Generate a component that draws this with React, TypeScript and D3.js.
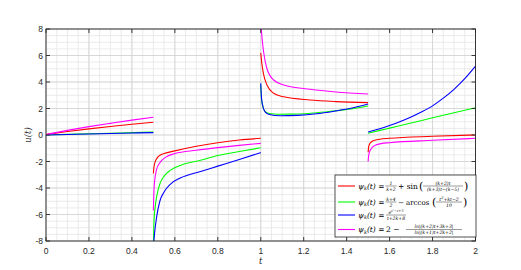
import React from "react";
import * as d3 from "d3";

// tick labels
const xTicks = [0, 0.2, 0.4, 0.6, 0.8, 1, 1.2, 1.4, 1.6, 1.8, 2];
const yTicks = [-8, -6, -4, -2, 0, 2, 4, 6, 8];

// curves, one list of [t, u] per interval
const redSegments: number[][][] = [
  [[0, 0.03], [0.1, 0.26], [0.2, 0.46], [0.3, 0.64], [0.4, 0.81], [0.5, 0.96]],
  [[0.5, -2.9], [0.503, -2.4], [0.51, -1.95], [0.525, -1.6], [0.55, -1.4], [0.6, -1.2], [0.7, -0.85], [0.8, -0.58], [0.9, -0.38], [1.0, -0.25]],
  [[1.0, 6.2], [1.005, 5.4], [1.013, 4.6], [1.029, 3.77], [1.06, 3.15], [1.107, 2.88], [1.23, 2.64], [1.35, 2.52], [1.5, 2.44]],
  [[1.5, -1.3], [1.503, -0.85], [1.51, -0.6], [1.53, -0.4], [1.6, -0.25], [1.8, -0.1], [2.0, 0.0]],
];
const greenSegments: number[][][] = [
  [[0, 0.0], [0.1, 0.05], [0.2, 0.09], [0.3, 0.13], [0.4, 0.18], [0.5, 0.22]],
  [[0.5, -8.5], [0.503, -6.5], [0.508, -5.5], [0.516, -4.6], [0.53, -3.7], [0.55, -3.1], [0.58, -2.65], [0.625, -2.3], [0.72, -1.9], [0.8, -1.55], [0.9, -1.25], [1.0, -0.96]],
  [[1.0, 3.8], [1.003, 2.8], [1.008, 2.25], [1.02, 1.78], [1.04, 1.62], [1.08, 1.57], [1.17, 1.58], [1.26, 1.68], [1.35, 1.83], [1.42, 1.97], [1.5, 2.19]],
  [[1.5, 0.13], [1.55, 0.33], [1.6, 0.52], [1.7, 0.9], [1.8, 1.3], [1.9, 1.68], [2.0, 2.05]],
];
const blueSegments: number[][][] = [
  [[0, 0.0], [0.1, 0.04], [0.2, 0.08], [0.3, 0.11], [0.4, 0.15], [0.5, 0.18]],
  [[0.5, -8.5], [0.505, -7.5], [0.515, -6.2], [0.53, -5.0], [0.55, -4.3], [0.58, -3.7], [0.625, -3.25], [0.72, -2.75], [0.8, -2.35], [0.9, -1.85], [1.0, -1.33]],
  [[1.0, 3.9], [1.003, 2.9], [1.008, 2.3], [1.02, 1.75], [1.04, 1.55], [1.09, 1.45], [1.17, 1.48], [1.26, 1.6], [1.35, 1.82], [1.42, 2.02], [1.5, 2.34]],
  [[1.5, 0.22], [1.55, 0.45], [1.6, 0.72], [1.65, 1.02], [1.7, 1.36], [1.75, 1.75], [1.8, 2.2], [1.85, 2.78], [1.9, 3.45], [1.95, 4.25], [2.0, 5.2]],
];
const magentaSegments: number[][][] = [
  [[0, 0.03], [0.1, 0.35], [0.2, 0.63], [0.3, 0.88], [0.4, 1.12], [0.5, 1.34]],
  [[0.5, -5.7], [0.502, -4.5], [0.505, -3.6], [0.515, -2.6], [0.53, -2.1], [0.56, -1.65], [0.6, -1.4], [0.7, -1.15], [0.8, -0.95], [0.9, -0.78], [1.0, -0.63]],
  [[1.0, 8.5], [1.005, 7.5], [1.013, 6.3], [1.029, 5.0], [1.06, 4.15], [1.107, 3.77], [1.23, 3.45], [1.35, 3.25], [1.5, 3.1]],
  [[1.5, -2.0], [1.503, -1.5], [1.51, -1.15], [1.53, -0.8], [1.56, -0.65], [1.6, -0.58], [1.8, -0.4], [2.0, -0.25]],
];

const series = [
  { name: "red", color: "#ff0000", segs: redSegments },
  { name: "green", color: "#00ff00", segs: greenSegments },
  { name: "blue", color: "#0000ff", segs: blueSegments },
  { name: "magenta", color: "#ff00ff", segs: magentaSegments },
];

const W = 521;
const H = 270;
const left = 46, right = 475.5, top = 29, bottom = 241;

const serif = "'DejaVu Serif', 'Liberation Serif', serif";

function Frac({ x, y, num, den, w }: { x: number; y: number; num: React.ReactNode; den: React.ReactNode; w: number }) {
  return (
    <g>
      <text x={x} y={y - 1.3} textAnchor="middle" fontSize={4.6} fontFamily={serif} fontStyle="italic">{num}</text>
      <line x1={x - w / 2} x2={x + w / 2} y1={y} y2={y} stroke="#000" strokeWidth={0.4} />
      <text x={x} y={y + 4.8} textAnchor="middle" fontSize={4.6} fontFamily={serif} fontStyle="italic">{den}</text>
    </g>
  );
}

function Psi({ x, y }: { x: number; y: number }) {
  return (
    <text x={x} y={y + 2.6} fontSize={7.5} fontFamily={serif} fontStyle="italic">
      ψ<tspan fontSize={5} dy={1.5}>k</tspan><tspan dy={-1.5}>(t) </tspan><tspan fontStyle="normal">=</tspan>
    </text>
  );
}

export default function App() {
  const x = d3.scaleLinear().domain([0, 2]).range([left, right]);
  const y = d3.scaleLinear().domain([-8, 8]).range([bottom, top]);
  const line = d3.line<number[]>().x(d => x(d[0])).y(d => y(d[1])).curve(d3.curveMonotoneX);

  const xMinor = d3.range(0, 2.0001, 0.05);
  const yMinor = d3.range(-8, 8.0001, 0.5);
  const axisColor = "#262626";

  const rows = [186, 202, 215, 229.5];

  return (
    <svg width={W} height={H} style={{ position: "absolute", left: 0, top: 0, background: "#fff" }}>
      <defs>
        <clipPath id="plot">
          <rect x={left} y={top} width={right - left} height={bottom - top} />
        </clipPath>
      </defs>
      <rect x={left} y={top} width={right - left} height={bottom - top} fill="#fff" />
      {/* minor grid */}
      {xMinor.map((t, i) => (
        <line key={"xm" + i} x1={x(t)} x2={x(t)} y1={top} y2={bottom} stroke="#e6e6e6" strokeWidth={0.8} />
      ))}
      {yMinor.map((v, i) => (
        <line key={"ym" + i} x1={left} x2={right} y1={y(v)} y2={y(v)} stroke="#e6e6e6" strokeWidth={0.8} />
      ))}
      {/* major grid */}
      {xTicks.map(t => (
        <line key={"xg" + t} x1={x(t)} x2={x(t)} y1={top} y2={bottom} stroke="#d2d2d2" strokeWidth={0.8} />
      ))}
      {yTicks.map(v => (
        <line key={"yg" + v} x1={left} x2={right} y1={y(v)} y2={y(v)} stroke="#d2d2d2" strokeWidth={0.8} />
      ))}

      {/* curves */}
      <g clipPath="url(#plot)">
        {series.map(s =>
          s.segs.map((seg, i) => (
            <path key={s.name + i} d={line(seg) || ""} fill="none" stroke={s.color} strokeWidth={1.1} />
          ))
        )}
      </g>

      {/* box and ticks */}
      <rect x={left} y={top} width={right - left} height={bottom - top} fill="none" stroke={axisColor} strokeWidth={0.9} />
      {xTicks.map(t => (
        <g key={"xt" + t}>
          <line x1={x(t)} x2={x(t)} y1={bottom} y2={bottom - 4} stroke={axisColor} strokeWidth={0.9} />
          <line x1={x(t)} x2={x(t)} y1={top} y2={top + 4} stroke={axisColor} strokeWidth={0.9} />
          <text x={x(t)} y={254} textAnchor="middle" fontSize={8.5} fontFamily="'Liberation Sans', Arial, sans-serif" fill="#262626">{t}</text>
        </g>
      ))}
      {yTicks.map(v => (
        <g key={"yt" + v}>
          <line x1={left} x2={left + 4} y1={y(v)} y2={y(v)} stroke={axisColor} strokeWidth={0.9} />
          <line x1={right} x2={right - 4} y1={y(v)} y2={y(v)} stroke={axisColor} strokeWidth={0.9} />
          <text x={43} y={y(v) + 3} textAnchor="end" fontSize={8.5} fontFamily="'Liberation Sans', Arial, sans-serif" fill="#262626">{v}</text>
        </g>
      ))}

      {/* axis labels */}
      <text x={(left + right) / 2} y={264} textAnchor="middle" fontSize={8.5} fontFamily={serif} fontStyle="italic" fill="#262626">t</text>
      <text transform={`translate(31,${y(0)}) rotate(-90)`} textAnchor="middle" fontSize={8.5} fontFamily={serif} fontStyle="italic" fill="#262626">u(t)</text>

      {/* legend */}
      <g>
        <rect x={335} y={175} width={141} height={62} fill="#fff" stroke="#262626" strokeWidth={0.8} />
        {series.map((s, i) => (
          <line key={"lg" + i} x1={338} x2={355} y1={rows[i]} y2={rows[i]} stroke={s.color} strokeWidth={1.1} />
        ))}
        {rows.map((r, i) => <Psi key={"psi" + i} x={358} y={r} />)}

        {/* row 1 */}
        <Frac x={391} y={rows[0]} w={11} num="1" den="k+2" />
        <text x={398} y={rows[0] + 2.6} fontSize={7.5} fontFamily={serif}>+ sin</text>
        <text x={419} y={rows[0] + 3.5} fontSize={11} fontFamily={serif}>(</text>
        <Frac x={443} y={rows[0]} w={40} num="(k+2)t" den="(k+3)t−(k−5)" />
        <text x={464} y={rows[0] + 3.5} fontSize={11} fontFamily={serif}>)</text>

        {/* row 2 */}
        <Frac x={391} y={rows[1]} w={11} num="k+4" den="2" />
        <text x={398} y={rows[1] + 2.6} fontSize={7} fontFamily={serif}>− arccos</text>
        <text x={432} y={rows[1] + 3.5} fontSize={11} fontFamily={serif}>(</text>
        <Frac x={449} y={rows[1]} w={26} num={<>t<tspan fontSize={3.5} dy={-1.5}>2</tspan><tspan dy={1.5}>+kt−2</tspan></>} den="10" />
        <text x={463} y={rows[1] + 3.5} fontSize={11} fontFamily={serif}>)</text>

        {/* row 3 */}
        <Frac x={396} y={rows[2]} w={20} num={<>e<tspan fontSize={3.5} dy={-1.6}>t²−t+3</tspan></>} den="t+2k+8" />

        {/* row 4 */}
        <text x={386} y={rows[3] + 2.6} fontSize={7.5} fontFamily={serif}>2 −</text>
        <Frac x={434} y={rows[3]} w={56} num="ln|(k+2)t+3k+3|" den="ln|(k+1)t+2k+2|" />
      </g>
    </svg>
  );
}
